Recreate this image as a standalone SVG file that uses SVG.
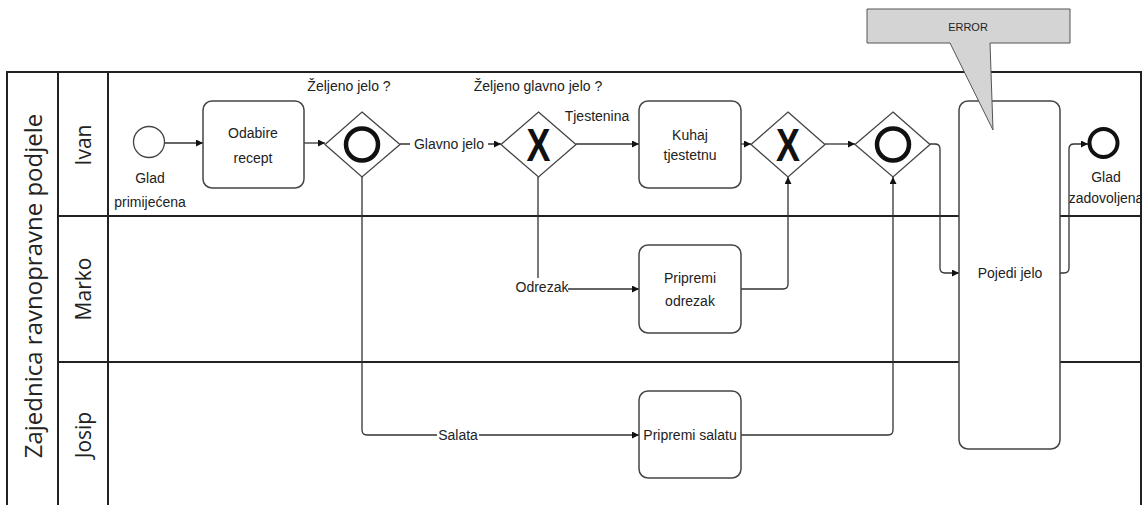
<svg xmlns="http://www.w3.org/2000/svg" width="1142" height="505" viewBox="0 0 1142 505">
<defs>
<style>
.lane{stroke:#222;stroke-width:2;fill:none}
.task{fill:#fff;stroke:#444;stroke-width:1.5}
.gw{fill:#fff;stroke:#444;stroke-width:1.3}
.edge{fill:none;stroke:#333;stroke-width:1.3}
.t{font-family:"Liberation Sans",Arial,sans-serif;font-size:14px;fill:#222;text-anchor:middle}
.lt{font-family:"Open Sans","Liberation Sans",sans-serif;font-size:21px;fill:#222;text-anchor:middle}
.pt{font-size:24px}
.et{font-size:11px}
.bg{fill:#fff}
.xm{font-family:"Liberation Sans",Arial,sans-serif;font-weight:bold;font-size:46px;fill:#111;text-anchor:middle}
</style>
<marker id="ah" viewBox="0 0 10 10" refX="10" refY="5" markerWidth="7" markerHeight="7" markerUnits="userSpaceOnUse" orient="auto">
<path d="M0,0 L10,5 L0,10 z" fill="#111"/>
</marker>
</defs>
<rect width="1142" height="505" fill="#fff"/>

<g id="pool">
<path class="lane" d="M7,505 V72 H1141 V505"/>
<path class="lane" d="M58,72 V505 M108,72 V505 M58,216 H1141 M58,362 H1141"/>
<text class="lt pt" transform="translate(42,286) rotate(-90)">Zajednica ravnopravne podjele</text>
<text class="lt" transform="translate(91,145) rotate(-90)">Ivan</text>
<text class="lt" transform="translate(91,289) rotate(-90)">Marko</text>
<text class="lt" transform="translate(91,435) rotate(-90)">Josip</text>
</g>

<g id="connectors">
<path class="edge" marker-end="url(#ah)" d="M165,143 H203"/>
<path class="edge" marker-end="url(#ah)" d="M304,143 H325"/>
<path class="edge" marker-end="url(#ah)" d="M400,144 H501"/>
<path class="edge" marker-end="url(#ah)" d="M576,144 H639"/>
<path class="edge" marker-end="url(#ah)" d="M741,144 H751"/>
<path class="edge" marker-end="url(#ah)" d="M825,144 H855"/>
<path class="edge" marker-end="url(#ah)" d="M930,144 H935 Q940,144 940,149 V268 Q940,273 945,273 H959"/>
<path class="edge" marker-end="url(#ah)" d="M1060,273 H1064 Q1069,273 1069,268 V149 Q1069,144 1074,144 H1088"/>
<path class="edge" marker-end="url(#ah)" d="M538,177 V289 H639"/>
<path class="edge" marker-end="url(#ah)" d="M741,289 H783 Q788,289 788,284 V177"/>
<path class="edge" marker-end="url(#ah)" d="M362,177 V430 Q362,435 367,435 H639"/>
<path class="edge" marker-end="url(#ah)" d="M741,435 H888 Q893,435 893,430 V177"/>
<rect class="bg" x="410" y="136" width="78" height="17"/>
<text class="t" x="449" y="149">Glavno jelo</text>
<text class="t" x="597" y="121">Tjestenina</text>
<rect class="bg" x="515" y="278" width="53" height="18"/>
<text class="t" x="542" y="292">Odrezak</text>
<rect class="bg" x="437" y="427" width="42" height="17"/>
<text class="t" x="458" y="440">Salata</text>
</g>

<g id="start">
<circle cx="149" cy="142" r="15.5" fill="#fff" stroke="#444" stroke-width="1.3"/>
<text class="t" x="150" y="183">Glad</text>
<text class="t" x="150" y="207">primijećena</text>
</g>

<g id="odabire">
<rect class="task" x="203" y="101" width="101" height="87" rx="9"/>
<text class="t" x="253" y="138">Odabire</text>
<text class="t" x="253" y="163">recept</text>
</g>

<g id="gw1">
<polygon class="gw" points="362,112 400,144.5 362,177 325,144.5"/>
<circle cx="362" cy="144.5" r="16" fill="none" stroke="#111" stroke-width="4.5"/>
<text class="t" x="349" y="91">Željeno jelo ?</text>
</g>

<g id="gw2">
<polygon class="gw" points="538.5,112 576,144.5 538.5,177 501,144.5"/>
<text class="xm" transform="translate(538.5,161) scale(0.78,1)" x="0" y="0">X</text>
<text class="t" x="538" y="91">Željeno glavno jelo ?</text>
</g>

<g id="kuhaj">
<rect class="task" x="639" y="101" width="102" height="87" rx="9"/>
<text class="t" x="690" y="140">Kuhaj</text>
<text class="t" x="690" y="160">tjestetnu</text>
</g>

<g id="gw3">
<polygon class="gw" points="788,112 825,144.5 788,177 751,144.5"/>
<text class="xm" transform="translate(788,161) scale(0.78,1)" x="0" y="0">X</text>
</g>

<g id="gw4">
<polygon class="gw" points="893,112 930,144.5 893,177 855,144.5"/>
<circle cx="893" cy="144.5" r="16" fill="none" stroke="#111" stroke-width="4.5"/>
</g>

<g id="odrezak">
<rect class="task" x="639" y="245" width="102" height="88" rx="9"/>
<text class="t" x="690" y="283">Pripremi</text>
<text class="t" x="690" y="306">odrezak</text>
</g>

<g id="salatu">
<rect class="task" x="639" y="391" width="102" height="87" rx="9"/>
<text class="t" x="690" y="440">Pripremi salatu</text>
</g>

<g id="pojedi">
<rect class="task" x="959" y="101" width="101" height="348" rx="9"/>
<text class="t" x="1010" y="278">Pojedi jelo</text>
</g>

<g id="end">
<circle cx="1103.5" cy="143" r="14" fill="#fff" stroke="#111" stroke-width="4"/>
<text class="t" x="1106" y="182">Glad</text>
<text class="t" x="1106" y="203">zadovoljena</text>
</g>

<g id="error">
<polygon points="867,9 1070,9 1070,43 990,43 993,130 950,43 867,43" fill="#d4d4d4" stroke="#555" stroke-width="1"/>
<text class="t et" x="968" y="31">ERROR</text>
</g>
</svg>
